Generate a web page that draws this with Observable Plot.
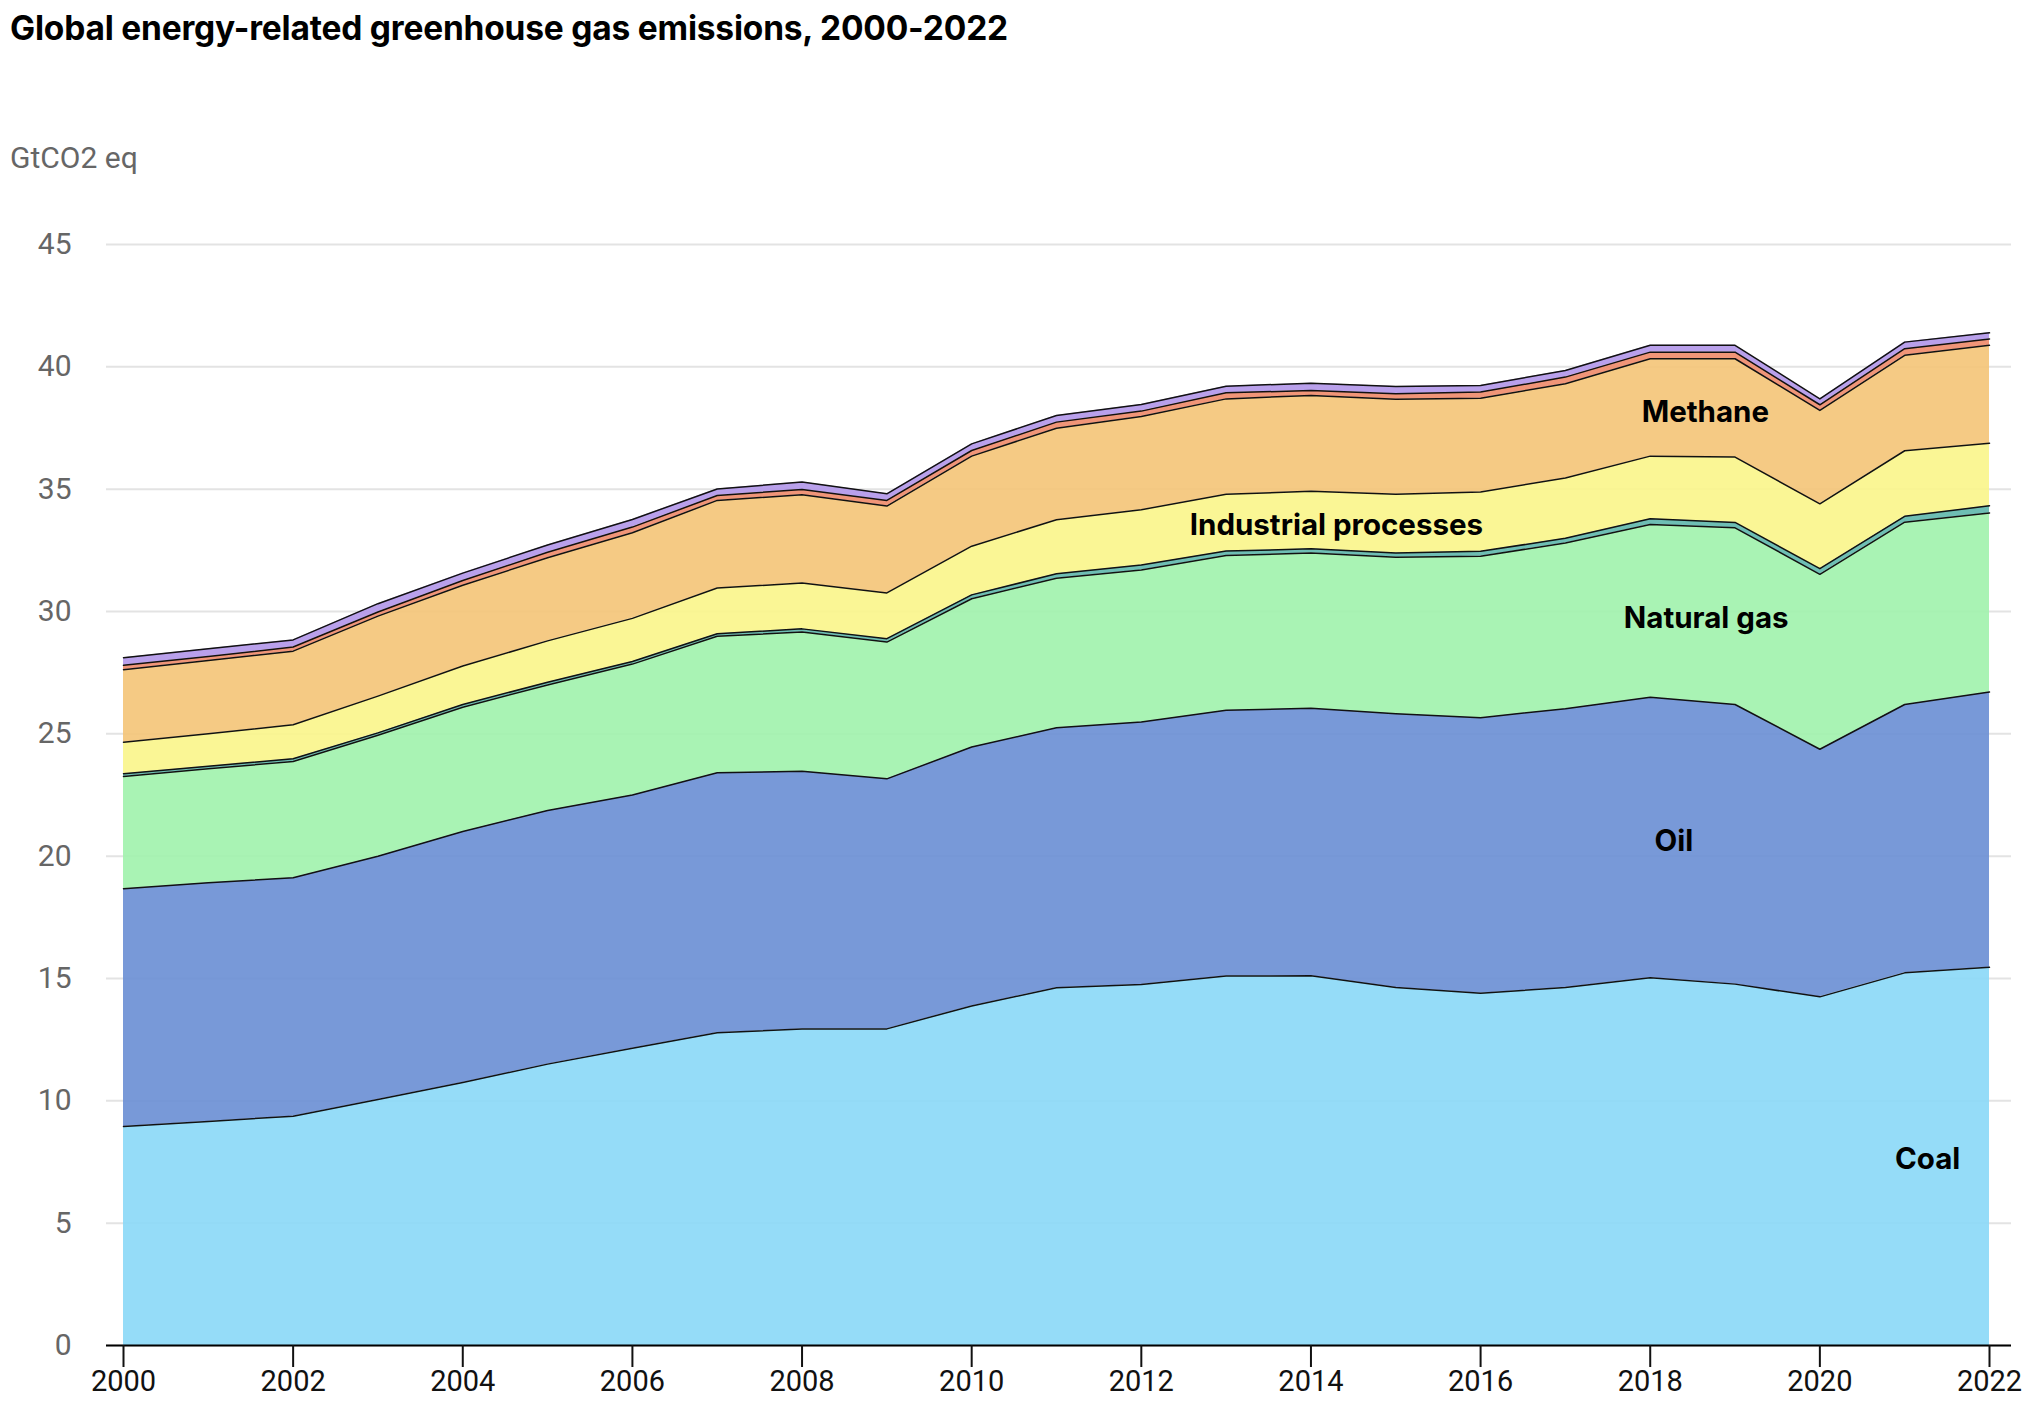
<!DOCTYPE html>
<html>
<head>
<meta charset="utf-8">
<script src="https://cdn.jsdelivr.net/npm/d3@7"></script>
<script src="https://cdn.jsdelivr.net/npm/@observablehq/plot@0.6"></script>
<style>
  body { margin: 0; background: #fff; font-family: Inter, "Noto Sans", sans-serif; }
  #wrap { position: relative; width: 2022px; height: 1424px; overflow: hidden; }
  #title { position: absolute; left: 10px; top: 9px; font-size: 33.5px; font-weight: 700; color: #000; line-height: 38px; white-space: nowrap; letter-spacing: -0.2px; }
  #unit { position: absolute; left: 10px; top: 141px; font-family: Roboto, sans-serif; font-size: 30px; color: #666; line-height: 34px; }
  #chart { position: absolute; left: 0; top: 200px; }
</style>
</head>
<body>
<div id="wrap">
  <div id="title">Global energy-related greenhouse gas emissions, 2000-2022</div>
  <div id="unit">GtCO2 eq</div>
  <div id="chart"></div>
</div>
<script>
const years = [2000,2001,2002,2003,2004,2005,2006,2007,2008,2009,2010,2011,2012,2013,2014,2015,2016,2017,2018,2019,2020,2021,2022];

const coal       = [8.95,9.16,9.37,10.05,10.75,11.50,12.15,12.78,12.94,12.94,13.88,14.62,14.75,15.10,15.11,14.63,14.40,14.63,15.03,14.77,14.25,15.23,15.46];
const oil        = [9.72,9.75,9.75,9.95,10.26,10.37,10.35,10.63,10.53,10.22,10.58,10.63,10.73,10.86,10.94,11.19,11.26,11.40,11.47,11.43,10.12,10.97,11.25];
const naturalGas = [4.59,4.66,4.75,4.94,5.08,5.13,5.35,5.58,5.69,5.59,6.06,6.11,6.22,6.33,6.34,6.40,6.60,6.77,7.06,7.22,7.15,7.45,7.32];
const otherCO2   = [0.11,0.11,0.11,0.10,0.11,0.11,0.11,0.10,0.13,0.14,0.16,0.18,0.20,0.18,0.17,0.17,0.20,0.19,0.23,0.22,0.23,0.24,0.29];
const industrial = [1.29,1.32,1.39,1.50,1.57,1.69,1.76,1.87,1.87,1.87,1.99,2.21,2.26,2.32,2.35,2.40,2.42,2.47,2.56,2.67,2.65,2.68,2.56];
const methane    = [2.96,3.00,3.01,3.27,3.30,3.40,3.50,3.58,3.61,3.55,3.68,3.74,3.81,3.90,3.92,3.88,3.84,3.85,3.98,4.02,3.82,3.90,4.00];
const flaring    = [0.18,0.16,0.17,0.17,0.20,0.22,0.23,0.20,0.22,0.23,0.23,0.25,0.22,0.25,0.20,0.23,0.25,0.27,0.27,0.27,0.23,0.27,0.26];
const n2o        = [0.31,0.32,0.29,0.34,0.30,0.30,0.31,0.27,0.30,0.27,0.27,0.27,0.27,0.27,0.30,0.30,0.27,0.27,0.28,0.28,0.24,0.27,0.25];

const seriesNames = ["Coal", "Oil", "Natural gas", "Other", "Industrial processes", "Methane", "Flaring", "N2O"];
const seriesValues = [coal, oil, naturalGas, otherCO2, industrial, methane, flaring, n2o];
const seriesColors = ["#8ad8f7", "#698ed4", "#a0f2ac", "#5eb7ac", "#faf58a", "#f4c477", "#ee8a69", "#b196e9"];

const yTicks = [0, 5, 10, 15, 20, 25, 30, 35, 40, 45];
const xTicks = [2000, 2002, 2004, 2006, 2008, 2010, 2012, 2014, 2016, 2018, 2020, 2022];

const labelText  = ["Coal", "Oil", "Natural gas", "Industrial processes", "Methane"];
const labelYear  = [2021.27, 2018.28, 2018.66, 2014.3, 2018.65];
const labelValue = [7.6, 20.6, 29.7, 33.5, 38.15];

const table = [];
seriesNames.forEach((s, i) => {
  years.forEach((yr, j) => table.push({series: s, year: yr, value: seriesValues[i][j]}));
});
const labels = labelText.map((t, i) => ({text: t, year: labelYear[i], value: labelValue[i]}));

const chart = Plot.plot({
  width: 2022,
  height: 1224,
  marginLeft: 106,
  marginRight: 11,
  marginTop: 44,
  marginBottom: 79,
  style: {fontFamily: "Roboto, 'Noto Sans', sans-serif", background: "white"},
  x: {domain: [2000, 2022], insetLeft: 17, insetRight: 22},
  y: {domain: [0, 45]},
  color: {domain: seriesNames, range: seriesColors},
  marks: [
    Plot.ruleY(yTicks, {stroke: "#e3e3e3", strokeWidth: 2}),
    Plot.areaY(table, Plot.stackY({x: "year", y: "value", z: "series", fill: "series", fillOpacity: 0.9, order: seriesNames})),
    Plot.lineY(table, Plot.stackY2({x: "year", y: "value", z: "series", order: seriesNames, stroke: "#111", strokeWidth: 1.5})),
    Plot.ruleY([0], {stroke: "#000", strokeWidth: 2}),
    Plot.axisY(yTicks, {tickSize: 0, tickPadding: 35, fontSize: 30, color: "#666", label: null}),
    Plot.axisX(xTicks, {tickSize: 22, tickPadding: 3, fontSize: 29, color: "#111", strokeWidth: 2, label: null, tickFormat: d => String(d)}),
    Plot.text(labels, {x: "year", y: "value", text: "text", fontFamily: "Inter, sans-serif", fontWeight: 700, fontSize: 29.5, fill: "#000"})
  ]
});
document.getElementById("chart").appendChild(chart);
</script>
</body>
</html>
